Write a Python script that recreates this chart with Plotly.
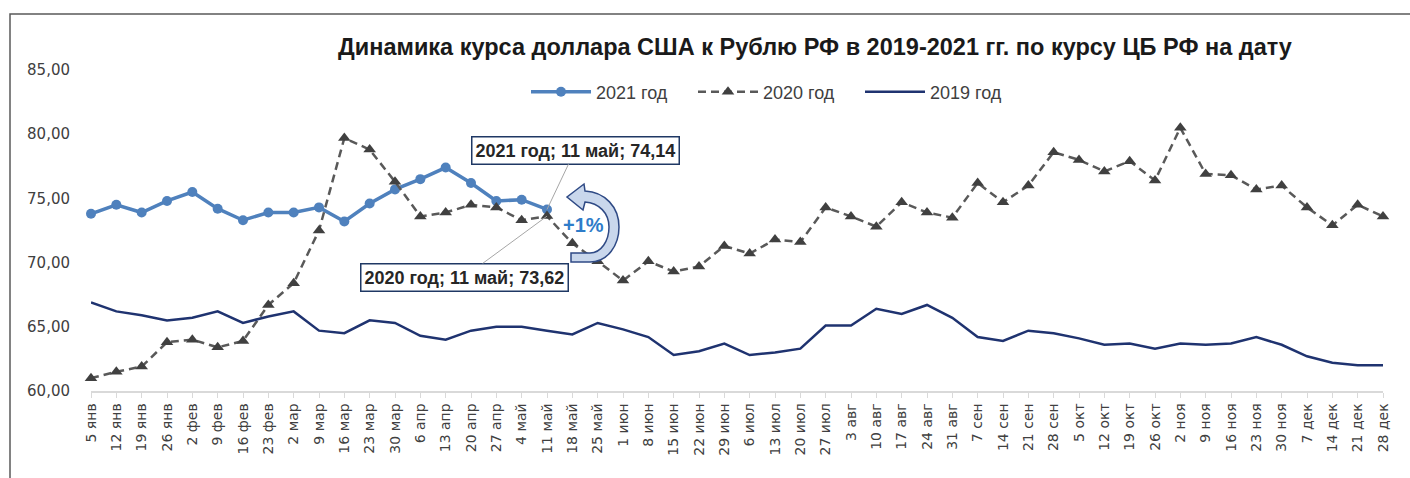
import plotly.graph_objects as go

categories = ["5 янв", "12 янв", "19 янв", "26 янв", "2 фев", "9 фев", "16 фев", "23 фев",
              "2 мар", "9 мар", "16 мар", "23 мар", "30 мар", "6 апр", "13 апр", "20 апр",
              "27 апр", "4 май", "11 май", "18 май", "25 май", "1 июн", "8 июн", "15 июн",
              "22 июн", "29 июн", "6 июл", "13 июл", "20 июл", "27 июл", "3 авг", "10 авг",
              "17 авг", "24 авг", "31 авг", "7 сен", "14 сен", "21 сен", "28 сен", "5 окт",
              "12 окт", "19 окт", "26 окт", "2 ноя", "9 ноя", "16 ноя", "23 ноя", "30 ноя",
              "7 дек", "14 дек", "21 дек", "28 дек"]

usd_2021 = [73.8, 74.5, 73.9, 74.8, 75.5, 74.2, 73.3, 73.9, 73.9, 74.3, 73.2, 74.6, 75.7,
            76.5, 77.4, 76.2, 74.8, 74.9, 74.14]

usd_2020 = [61.0, 61.5, 61.9, 63.8, 64.0, 63.4, 63.9, 66.7, 68.4, 72.5, 79.7, 78.8, 76.3,
            73.6, 73.9, 74.5, 74.3, 73.3, 73.62, 71.5, 70.1, 68.6, 70.1, 69.3, 69.7, 71.3,
            70.7, 71.8, 71.6, 74.3, 73.6, 72.8, 74.7, 73.9, 73.5, 76.2, 74.7, 76.0, 78.6,
            78.0, 77.1, 77.9, 76.4, 80.5, 76.9, 76.8, 75.7, 76.0, 74.3, 72.9, 74.5, 73.6]

usd_2019 = [66.9, 66.2, 65.9, 65.5, 65.7, 66.2, 65.3, 65.8, 66.2, 64.7, 64.5, 65.5, 65.3,
            64.3, 64.0, 64.7, 65.0, 65.0, 64.7, 64.4, 65.3, 64.8, 64.2, 62.8, 63.1, 63.7,
            62.8, 63.0, 63.3, 65.1, 65.1, 66.4, 66.0, 66.7, 65.7, 64.2, 63.9, 64.7, 64.5,
            64.1, 63.6, 63.7, 63.3, 63.7, 63.6, 63.7, 64.2, 63.6, 62.7, 62.2, 62.0, 62.0]

y_ticks = [60, 65, 70, 75, 80, 85]
series_names = ["2021 год", "2020 год", "2019 год"]
title_text = "Динамика курса доллара США к Рублю РФ в 2019-2021 гг. по курсу ЦБ РФ на дату"
change_text = "+1%"

W, H = 1410, 478
L, R, T, B = 91, 27, 70, 87
PW, PH = W - L - R, H - T - B


def px(x):
    return (x - L) / PW


def py(y):
    return (H - B - y) / PH


fig = go.Figure()

fig.add_trace(go.Scatter(
    x=categories[:len(usd_2021)], y=usd_2021, name=series_names[0],
    mode="lines+markers",
    line=dict(color="#4F81BD", width=3.5),
    marker=dict(symbol="circle", size=10, color="#4F81BD"),
    cliponaxis=False,
))
fig.add_trace(go.Scatter(
    x=categories, y=usd_2020, name=series_names[1],
    mode="lines+markers",
    line=dict(color="#595959", width=2.5, dash="8px,5px"),
    marker=dict(symbol="triangle-up", size=11, color="#404040"),
    cliponaxis=False,
))
fig.add_trace(go.Scatter(
    x=categories, y=usd_2019, name=series_names[2],
    mode="lines",
    line=dict(color="#1F3370", width=2.5),
    cliponaxis=False,
))

idx = len(usd_2021) - 1


def fmt(v):
    return f"{v:.2f}".replace(".", ",")


label_font = dict(family="Liberation Sans", size=18, color="#262626")
fig.add_annotation(
    x=categories[idx], y=usd_2021[idx], xref="x", yref="y",
    text=f"<b>{series_names[0]}; {categories[idx]}; {fmt(usd_2021[idx])}</b>",
    showarrow=True, arrowhead=0, arrowwidth=1, arrowcolor="#A6A6A6",
    ax=28, ay=-59,
    bgcolor="white", bordercolor="#1F3864", borderwidth=1.5, borderpad=3,
    font=label_font,
)
fig.add_annotation(
    x=categories[idx], y=usd_2020[idx], xref="x", yref="y",
    text=f"<b>{series_names[1]}; {categories[idx]}; {fmt(usd_2020[idx])}</b>",
    showarrow=True, arrowhead=0, arrowwidth=1, arrowcolor="#A6A6A6",
    ax=-83, ay=61,
    bgcolor="white", bordercolor="#1F3864", borderwidth=1.5, borderpad=3,
    font=label_font,
)

# curved arrow (decoration), defined in pixel coordinates and converted to paper
pts = [("M", [(571, 262)]), ("L", [(590, 262)]),
       ("C", [(608, 262), (619, 245), (619, 227)]),
       ("C", [(619, 207), (605, 192), (585, 191)]),
       ("L", [(584, 184)]), ("L", [(567, 197)]), ("L", [(583, 210)]),
       ("L", [(585, 202)]),
       ("C", [(599, 203), (609, 213), (609, 227)]),
       ("C", [(609, 241), (601, 253), (590, 253)]),
       ("L", [(571, 253)])]
path = ""
for cmd, ps in pts:
    path += cmd + " " + " ".join(f"{px(a):.5f},{py(b):.5f}" for a, b in ps) + " "
path += "Z"
fig.add_shape(type="path", path=path, xref="paper", yref="paper",
              fillcolor="#C9D7EC", line=dict(color="#2F4A85", width=1.5), layer="above")

fig.add_annotation(
    x=px(583), y=py(225), xref="paper", yref="paper", showarrow=False,
    text=f"<b>{change_text}</b>",
    font=dict(family="Liberation Sans", size=20, color="#2E7CC9"),
)

# chart border
fig.add_shape(type="rect", xref="paper", yref="paper",
              x0=px(10), x1=px(1425), y0=py(495), y1=py(14),
              line=dict(color="#595959", width=1.5), fillcolor="rgba(0,0,0,0)", layer="below")

fig.update_layout(
    width=W, height=H,
    margin=dict(l=L, r=R, t=T, b=B),
    paper_bgcolor="white", plot_bgcolor="white",
    separators=", ",
    title=dict(text=f"<b>{title_text}</b>", x=px(815), xanchor="center", xref="paper",
               y=1 - 47 / H, yanchor="middle",
               font=dict(family="Liberation Sans", size=23.5, color="#1a1a1a")),
    legend=dict(orientation="h", x=px(526), y=py(92), xanchor="left", yanchor="middle",
                font=dict(family="Liberation Sans", size=18, color="#404040"),
                bgcolor="rgba(0,0,0,0)", itemwidth=60, tracegroupgap=0,
                entrywidth=92, entrywidthmode="pixels"),
    showlegend=True,
    xaxis=dict(type="category", categoryorder="array", categoryarray=categories,
               range=[0, len(categories) - 1], showgrid=False, zeroline=False,
               showline=True, linecolor="#D9D9D9", linewidth=1.5,
               ticks="outside", ticklen=5, tickcolor="#D9D9D9", tickwidth=1,
               tickangle=-90, tickfont=dict(family="DejaVu Sans", size=14, color="#404040"),
               tickmode="array", tickvals=categories, ticktext=categories),
    yaxis=dict(range=[60, 85], tickvals=y_ticks, tickformat=".2f", showgrid=False,
               zeroline=False, showline=False, ticks="",
               ticklabelstandoff=20,
               tickfont=dict(family="DejaVu Sans", size=15, color="#404040")),
)

fig.write_html("out.html", config={"displayModeBar": False},
               post_script="document.body.style.margin='0';")
